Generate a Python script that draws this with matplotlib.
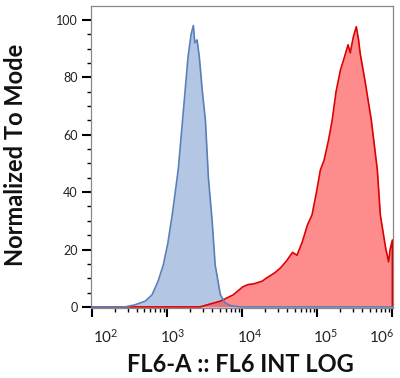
import matplotlib
matplotlib.use("Agg")
import matplotlib.pyplot as plt
import matplotlib.transforms as mtransforms
from matplotlib.ticker import LogLocator, MultipleLocator, FixedLocator, FixedFormatter

# ---- data (intensity, normalized count) ----
blue_x = [90, 275, 370, 510, 630, 760, 890, 1020, 1170, 1410, 1620, 1900, 2090,
          2240, 2340, 2510, 2690, 2950, 3240, 3550, 3980, 4370, 5130, 5890, 6920,
          9330, 1100000]
blue_y = [0, 0, 0.7, 2, 4.2, 9, 14.6, 22, 32, 48, 66, 87, 95,
          98, 92, 93, 87, 75, 65, 45, 30, 14.6, 4.2, 1.5, 0.5,
          0, 0]

red_x = [90, 2750, 3720, 5130, 7590, 10200, 12000, 14100, 18600, 20900, 23400,
         27500, 32400, 38900, 46800, 53700, 63100, 74100, 85100, 97700, 110000,
         123000, 141000, 158000, 178000, 204000, 224000, 257000, 275000, 302000,
         331000, 355000, 372000, 437000, 525000, 631000, 692000, 813000, 891000,
         933000, 1000000, 1000001, 1100000]
red_y = [0, 0, 1, 2, 4.2, 7, 7.8, 8, 9, 10, 10.8,
         12, 13.6, 16, 19, 18, 22.6, 28.6, 32, 40, 47.7,
         51, 58, 65, 75, 82.6, 86, 91.3, 88.5, 94,
         97.6, 93, 88.5, 78, 65, 47.7, 32, 20.6, 15.7,
         20, 23.3, 0, 0]

x_ticks = [1e2, 1e3, 1e4, 1e5, 1e6]
x_tick_labels = [r"$\mathregular{10^{2}}$", r"$\mathregular{10^{3}}$", r"$\mathregular{10^{4}}$",
                 r"$\mathregular{10^{5}}$", r"$\mathregular{10^{6}}$"]
y_ticks = [0, 20, 40, 60, 80, 100]
x_label = "FL6-A :: FL6 INT LOG"
y_label = "Normalized To Mode"

plt.rcParams['font.family'] = ['Lato', 'DejaVu Sans']
plt.rcParams['mathtext.fontset'] = 'custom'
plt.rcParams['mathtext.rm'] = 'Lato'

fig = plt.figure(figsize=(4.0, 3.78), dpi=100)
ax = fig.add_axes([0.2275, 0.185, 0.755, 0.799])

ax.fill_between(blue_x, blue_y, 0, color='#b3c6e3', linewidth=0, zorder=2)
ax.fill_between(red_x, red_y, 0, color='#ff4040', alpha=0.6, linewidth=0, zorder=3)
ax.plot(red_x, red_y, color='#dd0000', linewidth=1.2, zorder=4)
ax.plot(blue_x, blue_y, color='#5a7fb8', linewidth=1.2, zorder=5)

ax.set_xscale('log')
ax.set_xlim(97, 1.02e6)
ax.set_ylim(-0.4, 104.8)

ax.xaxis.set_major_locator(FixedLocator(x_ticks))
ax.xaxis.set_major_formatter(FixedFormatter(x_tick_labels))
ax.xaxis.set_minor_locator(LogLocator(base=10, subs=[2, 3, 4, 5, 6, 7, 8, 9], numticks=20))
ax.yaxis.set_major_locator(FixedLocator(y_ticks))
ax.yaxis.set_minor_locator(MultipleLocator(5))

ax.tick_params(axis='both', which='major', direction='out', length=6.5, width=1.5,
               color='black', labelcolor='#222222')
ax.tick_params(axis='both', which='minor', direction='out', length=3, width=1.0, color='black')
ax.tick_params(axis='x', which='major', pad=8, labelsize=11)
ax.tick_params(axis='y', which='major', pad=3, labelsize=9)

# shift x tick labels horizontally (pixels) as in the original layout
label_shift_px = [14, 6, 8, 8, -11]
for lab, dx in zip(ax.get_xticklabels(), label_shift_px):
    lab.set_transform(lab.get_transform() +
                      mtransforms.ScaledTranslation(dx / 100, 0, fig.dpi_scale_trans))

for s in ax.spines.values():
    s.set_color('#888888')
    s.set_linewidth(0.9)

fig.text(240 / 400, 1 - 365 / 378, x_label, fontsize=17, fontweight='bold',
         color='#111111', ha='center', va='center')
fig.text(16 / 400, 1 - 155 / 378, y_label, fontsize=17, fontweight='bold',
         color='#111111', ha='center', va='center', rotation=90)

fig.savefig("out.png", dpi=100)
